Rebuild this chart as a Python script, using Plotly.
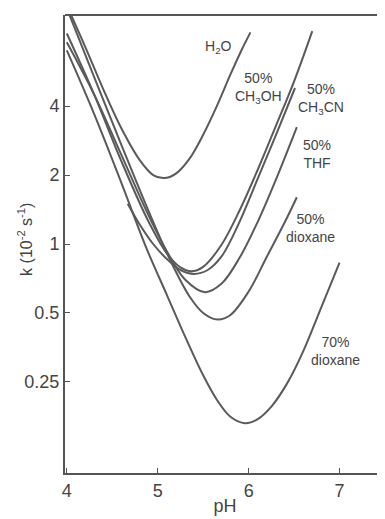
import plotly.graph_objects as go

# pH-rate profiles
ph_h2o = [4.0, 4.2, 4.4, 4.6, 4.8, 4.95, 5.07, 5.2, 5.35, 5.5, 5.65, 5.8, 5.92, 6.02]
k_h2o = [11.0, 7.3, 4.75, 3.2, 2.33, 2.0, 1.94, 2.03, 2.36, 3.0, 4.0, 5.5, 7.0, 8.4]

ph_meoh = [4.0, 4.3, 4.6, 4.9, 5.1, 5.25, 5.37, 5.5, 5.7, 5.9, 6.1, 6.3, 6.5, 6.7]
k_meoh = [8.3, 4.5, 2.3, 1.25, 0.91, 0.79, 0.76, 0.795, 0.99, 1.40, 2.11, 3.28, 5.13, 8.5]

ph_mecn = [4.67, 4.8, 4.95, 5.1, 5.25, 5.4, 5.55, 5.7, 5.9, 6.1, 6.3, 6.51]
k_mecn = [1.5, 1.22, 1.0, 0.86, 0.77, 0.74, 0.77, 0.88, 1.25, 1.93, 2.99, 4.8]

ph_thf = [4.0, 4.3, 4.6, 4.9, 5.1, 5.3, 5.52, 5.7, 5.9, 6.1, 6.3, 6.53]
k_thf = [7.6, 4.5, 2.45, 1.33, 0.93, 0.70, 0.616, 0.67, 0.87, 1.25, 1.91, 3.24]

ph_diox50 = [4.0, 4.3, 4.6, 4.9, 5.15, 5.35, 5.5, 5.66, 5.8, 6.0, 6.2, 6.4, 6.53]
k_diox50 = [10.7, 5.37, 2.71, 1.39, 0.83, 0.59, 0.50, 0.468, 0.49, 0.62, 0.88, 1.25, 1.6]

ph_diox70 = [4.0, 4.3, 4.6, 4.88, 5.1, 5.3, 5.5, 5.65, 5.8, 5.96, 6.1, 6.25, 6.42, 6.6, 6.8, 7.0]
k_diox70 = [7.0, 3.7, 1.85, 0.95, 0.60, 0.395, 0.267, 0.209, 0.176, 0.165, 0.172, 0.195, 0.245, 0.34, 0.53, 0.83]

y_ticks = [0.25, 0.5, 1, 2, 4]
y_ticklabels = ["0.25", "0.5", "1", "2", "4"]
x_ticks = [4, 5, 6, 7]

labels = ["H<sub>2</sub>O", "50%<br>CH<sub>3</sub>OH", "50%<br>CH<sub>3</sub>CN",
          "50%<br>THF", "50%<br>dioxane", "70%<br>dioxane"]
label_x = [5.663, 6.103, 6.796, 6.752, 6.675, 6.95]
label_logy = [0.860, 0.681, 0.633, 0.393, 0.070, -0.467]

LINE = "#5a5a5a"
TEXT = "#444444"
FONT = "Liberation Sans, Arial, sans-serif"

fig = go.Figure()
for xs, ys in [(ph_h2o, k_h2o), (ph_meoh, k_meoh), (ph_mecn, k_mecn),
               (ph_thf, k_thf), (ph_diox50, k_diox50), (ph_diox70, k_diox70)]:
    fig.add_trace(go.Scatter(x=xs, y=ys, mode="lines",
                             line=dict(color=LINE, width=2, shape="spline", smoothing=1.0),
                             showlegend=False, hoverinfo="skip"))

for t, x, y in zip(labels, label_x, label_logy):
    fig.add_annotation(x=x, y=y, xref="x", yref="y", text=t, showarrow=False,
                       font=dict(family=FONT, size=14, color=TEXT), align="center")

# y-axis title placed as annotation
fig.add_annotation(x=-0.125, y=0.509, xref="paper", yref="paper",
                   xanchor="center", yanchor="middle",
                   text="k (10<sup>-2</sup> s<sup>-1</sup>)", textangle=-90,
                   showarrow=False, font=dict(family=FONT, size=16, color=TEXT))

fig.add_shape(type="line", xref="paper", yref="paper", x0=0, x1=1, y0=1, y1=1,
              line=dict(color="#555555", width=2))

fig.update_layout(
    width=377, height=511,
    margin=dict(l=57, r=0, t=7, b=46),
    paper_bgcolor="white", plot_bgcolor="white",
    font=dict(family=FONT, color=TEXT, size=18),
    xaxis=dict(range=[3.98, 7.5], tickvals=x_ticks, ticks="inside", ticklen=5,
               tickcolor="#555555", showline=True, linecolor="#555555", linewidth=2,
               showgrid=False, zeroline=False,
               tickfont=dict(family=FONT, size=18, color=TEXT),
               title=dict(text="pH", font=dict(family=FONT, size=18, color=TEXT), standoff=0)),
    yaxis=dict(type="log", range=[-1, 1], tickvals=y_ticks, ticktext=y_ticklabels,
               ticks="inside", ticklen=5, tickcolor="#555555", showline=True,
               linecolor="#555555", linewidth=2, showgrid=False, zeroline=False,
               tickfont=dict(family=FONT, size=18, color=TEXT)),
)

fig.write_html("out.html")
